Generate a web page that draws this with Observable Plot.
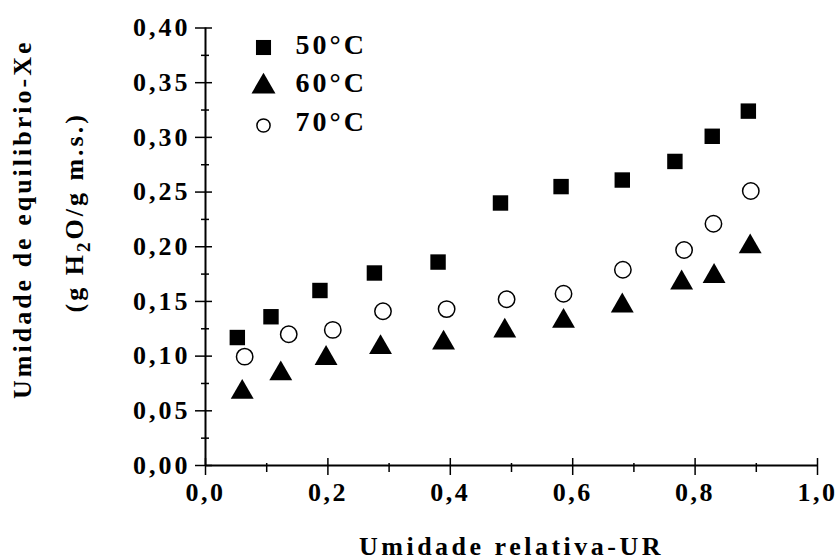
<!DOCTYPE html>
<html><head><meta charset="utf-8">
<script src="https://cdn.jsdelivr.net/npm/d3@7"></script>
<script src="https://cdn.jsdelivr.net/npm/@observablehq/plot@0.6"></script>
<style>
body{margin:0;background:#fff;}
#chart svg{display:block;}
#chart svg text{font-family:"Liberation Serif","Times New Roman",Times,Tinos,serif;font-weight:bold;}
</style></head><body><div id="chart"></div>
<script>
// ---- data ----
const series = ["50°C", "60°C", "70°C"];
const ur50 = [0.052, 0.107, 0.187, 0.276, 0.380, 0.482, 0.581, 0.681, 0.767, 0.828, 0.887];
const xe50 = [0.117, 0.136, 0.160, 0.176, 0.186, 0.240, 0.255, 0.261, 0.278, 0.301, 0.324];
const ur60 = [0.060, 0.123, 0.197, 0.286, 0.389, 0.489, 0.585, 0.681, 0.778, 0.831, 0.890];
const xe60 = [0.067, 0.084, 0.098, 0.108, 0.112, 0.123, 0.132, 0.146, 0.167, 0.173, 0.200];
const ur70 = [0.064, 0.136, 0.208, 0.290, 0.394, 0.492, 0.585, 0.682, 0.782, 0.830, 0.891];
const xe70 = [0.0995, 0.120, 0.124, 0.141, 0.143, 0.152, 0.157, 0.179, 0.197, 0.221, 0.251];
const xTicks = [0, 0.2, 0.4, 0.6, 0.8, 1.0];
const xMinorTicks = [0.1, 0.3, 0.5, 0.7, 0.9];
const yTicks = [0, 0.05, 0.10, 0.15, 0.20, 0.25, 0.30, 0.35, 0.40];
const yMinorTicks = [0.025, 0.075, 0.125, 0.175, 0.225, 0.275, 0.325, 0.375];
const xTitle = "Umidade relativa-UR";
const yTitle1 = "Umidade de equilibrio-Xe";
const yTitle2 = "(g H2O/g m.s.)";

const toRows = (xs, ys, s) => xs.map((x, i) => ({s, x, y: ys[i]}));
const d50 = toRows(ur50, xe50, series[0]);
const d60 = toRows(ur60, xe60, series[1]);
const d70 = toRows(ur70, xe70, series[2]);

const fmtX = d => d.toFixed(1).replace(".", ",");
const fmtY = d => d.toFixed(2).replace(".", ",");

const symStyles = [
  {symbol: "square", fill: "black", stroke: "none", r: 8.7, lr: 8.5},
  {symbol: "triangle", fill: "black", stroke: "none", r: 8.5, lr: 8.9},
  {symbol: "circle", fill: "white", stroke: "black", r: 8.2, lr: 6.6}
];

const legendMarks = series.flatMap((name, i) => [
  Plot.dot([name], {frameAnchor: "top-left", dx: 58, dy: 19.5 + i * 39, symbol: symStyles[i].symbol,
    r: symStyles[i].lr, fill: symStyles[i].fill, stroke: symStyles[i].stroke, strokeWidth: 1.5}),
  Plot.text([name], {frameAnchor: "top-left", dx: 90, dy: 17 + i * 38.5, text: d => d,
    textAnchor: "start", lineAnchor: "middle", fontSize: 28})
]);

const plot = Plot.plot({
  width: 837,
  height: 560,
  marginLeft: 205,
  marginRight: 20,
  marginTop: 27.5,
  marginBottom: 95,
  style: "font-family:'Liberation Serif','Times New Roman',serif;font-weight:bold;font-size:26px;color:black;background:white;letter-spacing:3px;",
  x: {domain: [0, 1]},
  y: {domain: [0, 0.4]},
  marks: [
    // axis lines
    Plot.ruleX([0], {stroke: "black", strokeWidth: 2}),
    Plot.ruleY([0], {stroke: "black", strokeWidth: 2}),
    // x ticks (crossing the axis)
    Plot.axisX({ticks: xTicks, tickSize: 17, dy: -7, fill: "none", label: null, stroke: "black", strokeWidth: 1.5}),
    Plot.axisX({ticks: xMinorTicks, tickSize: 9, dy: -2, fill: "none", label: null, stroke: "black", strokeWidth: 1.5}),
    Plot.axisX({ticks: xTicks, tickSize: 0, tickPadding: 17, tickFormat: fmtX, label: null, fill: "black", className: "xlab"}),
    // y ticks
    Plot.axisY({ticks: yTicks, tickSize: 17, dx: 7, fill: "none", label: null, stroke: "black", strokeWidth: 1.5}),
    Plot.axisY({ticks: yMinorTicks, tickSize: 8, dx: 4, fill: "none", label: null, stroke: "black", strokeWidth: 1.5}),
    Plot.axisY({ticks: yTicks, tickSize: 0, tickPadding: 15, tickFormat: fmtY, label: null, fill: "black"}),
    // axis titles
    Plot.text([xTitle], {frameAnchor: "bottom", dy: 81.5, text: d => d, textAnchor: "middle", lineAnchor: "middle"}),
    Plot.text([yTitle1], {frameAnchor: "left", dx: -182.5, dy: -27.5, rotate: -90, text: d => d, textAnchor: "middle", lineAnchor: "middle"}),
    Plot.text([yTitle2], {frameAnchor: "left", dx: -131, dy: -34.5, rotate: -90, text: d => d, textAnchor: "middle", lineAnchor: "middle"}),
    // data
    Plot.dot(d50, {x: "x", y: "y", symbol: "square", r: symStyles[0].r, fill: "black", stroke: "none"}),
    Plot.dot(d60, {x: "x", y: "y", symbol: "triangle", r: symStyles[1].r, fill: "black", stroke: "none"}),
    Plot.dot(d70, {x: "x", y: "y", symbol: "circle", r: symStyles[2].r, fill: "white", stroke: "black", strokeWidth: 1.5}),
    ...legendMarks
  ]
});

// subscript in "H2O"
d3.select(plot).selectAll("text").filter(function() { return this.textContent === yTitle2; }).each(function() {
  const t = d3.select(this);
  const [a, b] = yTitle2.split("2");
  t.text(null);
  t.append("tspan").text(a);
  t.append("tspan").attr("dy", 7).attr("font-size", 19).text("2");
  t.append("tspan").attr("dy", -7).text(b);
});
d3.select(plot).selectAll("text").filter(function() { return this.textContent === xTitle; }).style("letter-spacing", "3.5px");
d3.select(plot).selectAll("text").filter(function() { return xTicks.map(fmtX).includes(this.textContent); }).style("letter-spacing", "2.5px");

document.getElementById("chart").appendChild(plot);
</script>
</body></html>
